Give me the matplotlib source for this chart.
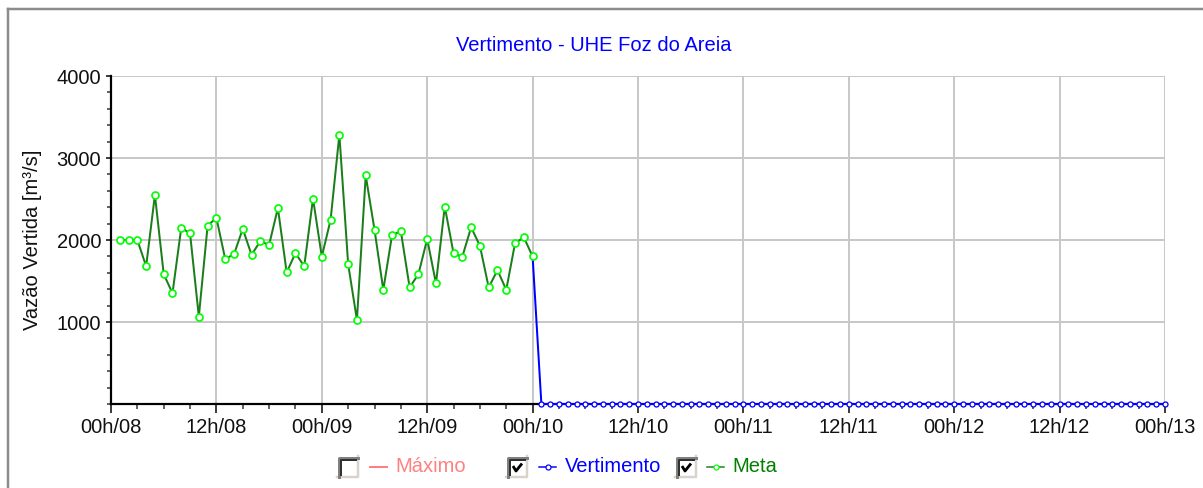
import numpy as np
import matplotlib
matplotlib.use("Agg")
import matplotlib.pyplot as plt
from matplotlib.lines import Line2D
from matplotlib.patches import Rectangle

# ---------------- data ----------------
title = "Vertimento - UHE Foz do Areia"
y_label = "Vazão Vertida [m³/s]"

# hours counted from 00h/08
meta_hours = np.arange(1, 49)
meta_values = [2000, 2000, 2000, 1680, 2550, 1585, 1350, 2150, 2080, 1066,
               2175, 2270, 1770, 1825, 2135, 1820, 1985, 1940, 2390, 1605,
               1840, 1680, 2505, 1797, 2245, 3285, 1706, 1025, 2787, 2126,
               1392, 2061, 2106, 1421, 1584, 2012, 1470, 2408, 1837, 1796,
               2155, 1930, 1421, 1633, 1392, 1960, 2033, 1800]

vert_hours = np.arange(48, 121)
vert_values = [1800,
               0, 0, 0, 0, 0, 0, 0, 0, 0, 0, 0, 0,
               0, 0, 0, 0, 0, 0, 0, 0, 0, 0, 0, 0,
               0, 0, 0, 0, 0, 0, 0, 0, 0, 0, 0, 0,
               0, 0, 0, 0, 0, 0, 0, 0, 0, 0, 0, 0,
               0, 0, 0, 0, 0, 0, 0, 0, 0, 0, 0, 0,
               0, 0, 0, 0, 0, 0, 0, 0, 0, 0, 0, 0]

x_tick_pos = [0, 12, 24, 36, 48, 60, 72, 84, 96, 108, 120]
x_tick_labels = ["00h/08", "12h/08", "00h/09", "12h/09", "00h/10", "12h/10",
                 "00h/11", "12h/11", "00h/12", "12h/12", "00h/13"]
y_tick_pos = [1000, 2000, 3000, 4000]
y_tick_labels = ["1000", "2000", "3000", "4000"]

legend_labels = ["Máximo", "Vertimento", "Meta"]
legend_checked = [False, True, True]

# ---------------- style ----------------
W, H = 1203, 488
plt.rcParams['font.family'] = ['Liberation Sans', 'DejaVu Sans']
FS = 14.5
PT = 0.72  # points per pixel at dpi 100

GREEN_LINE = "#1a7f1a"
GREEN_MARK = "#00ff00"
BLUE = "#0000ff"
PINK = "#ff8080"
GRID = "#c8c8c8"

fig = plt.figure(figsize=(W / 100, H / 100), dpi=100)
fig.patch.set_facecolor("white")


def fx(x):
    return x / W


def fy(y):
    return 1 - y / H


# outer frame (left + top)
fig.add_artist(Line2D([fx(8), fx(8)], [fy(9), fy(490)], color="#8c8c8c",
                      lw=2.5 * PT, transform=fig.transFigure))
fig.add_artist(Line2D([fx(8), fx(1210)], [fy(9), fy(9)], color="#8c8c8c",
                      lw=2.5 * PT, transform=fig.transFigure))

ax = fig.add_axes([fx(111), fy(404), (1165 - 111) / W, (404 - 76) / H])
ax.set_xlim(0, 120)
ax.set_ylim(0, 4000)

ax.set_xticks(x_tick_pos)
ax.set_xticklabels(x_tick_labels, fontsize=FS)
ax.set_xticks(np.arange(0, 121, 3), minor=True)
ax.set_yticks(y_tick_pos)
ax.set_yticklabels(y_tick_labels, fontsize=FS)
ax.set_yticks(np.arange(0, 4001, 200), minor=True)

ax.tick_params(axis="x", which="major", length=9 * PT, width=1.5 * PT,
               pad=5 * PT, colors="black", labelcolor="#111111")
ax.tick_params(axis="x", which="minor", length=5 * PT, width=1.5 * PT,
               colors="#333333")
ax.tick_params(axis="y", which="major", length=5 * PT, width=1.5 * PT,
               pad=5 * PT, labelcolor="#111111")
ax.tick_params(axis="y", which="minor", length=4 * PT, width=1.5 * PT,
               colors="#333333")

ax.grid(True, which="major", color=GRID, lw=2 * PT, zorder=0)
ax.set_axisbelow(True)
for s in ["top", "right"]:
    ax.spines[s].set_visible(False)
for s in ["left", "bottom"]:
    ax.spines[s].set_linewidth(2.2 * PT)
    ax.spines[s].set_color("black")

ax.set_ylabel(y_label, fontsize=FS, color="#111111", labelpad=10)

# series
ax.plot(vert_hours, vert_values, color=BLUE, lw=2 * PT, marker="o",
        ms=5 * PT, mfc="white", mec=BLUE, mew=1.3 * PT, zorder=3,
        clip_on=False)
ax.plot(meta_hours, meta_values, color=GREEN_LINE, lw=2 * PT, marker="o",
        ms=7 * PT, mfc="white", mec=GREEN_MARK, mew=1.7 * PT, zorder=4,
        clip_on=False)

fig.text(fx(594), fy(46), title, color=BLUE, fontsize=FS, ha="center",
         va="center")

# ---------------- legend (checkboxes) ----------------
legend_colors = [PINK, BLUE, "#008000"]
box_x = [337, 506, 675]
sym_x = [370, 539, 707]
text_x = [395, 565, 732]
yc = 466.5


def checkbox(x0, checked):
    y0, s = 456, 22
    fig.add_artist(Rectangle((fx(x0), fy(y0 + s)), s / W, s / H,
                             transform=fig.transFigure, facecolor="white",
                             edgecolor="none"))
    # light bottom/right
    fig.add_artist(Line2D([fx(x0), fx(x0 + s - 1), fx(x0 + s - 1)],
                          [fy(y0 + s - 1), fy(y0 + s - 1), fy(y0)],
                          color="#d8d4cc", lw=2.5 * PT,
                          transform=fig.transFigure))
    # dark top/left (outer grey, inner near-black)
    fig.add_artist(Line2D([fx(x0 + 1.5), fx(x0 + 1.5), fx(x0 + s - 1)],
                          [fy(y0 + s - 1), fy(y0 + 1.5), fy(y0 + 1.5)],
                          color="#808080", lw=3 * PT,
                          transform=fig.transFigure))
    fig.add_artist(Line2D([fx(x0 + 4), fx(x0 + 4), fx(x0 + s - 3)],
                          [fy(y0 + s - 3), fy(y0 + 4), fy(y0 + 4)],
                          color="#303030", lw=2 * PT,
                          transform=fig.transFigure))
    if checked:
        fig.add_artist(Line2D([fx(x0 + 7), fx(x0 + 10), fx(x0 + 16)],
                              [fy(y0 + 10), fy(y0 + 15), fy(y0 + 7.5)],
                              color="black", lw=2.8 * PT,
                              solid_capstyle="butt",
                              transform=fig.transFigure))


for i, lab in enumerate(legend_labels):
    checkbox(box_x[i], legend_checked[i])
    c = legend_colors[i]
    if i == 0:
        fig.add_artist(Line2D([fx(sym_x[i]), fx(sym_x[i] + 17)], [fy(yc), fy(yc)],
                              color=c, lw=2 * PT, transform=fig.transFigure))
    elif i == 1:
        fig.add_artist(Line2D([fx(sym_x[i]), fx(sym_x[i] + 17)], [fy(yc), fy(yc)],
                              color=c, lw=1.5 * PT, transform=fig.transFigure))
        fig.add_artist(Line2D([fx(sym_x[i] + 8.5)], [fy(yc)], marker="o",
                              ms=5 * PT, mfc="white", mec=c, mew=1.2 * PT,
                              transform=fig.transFigure))
    else:
        fig.add_artist(Line2D([fx(sym_x[i]), fx(sym_x[i] + 17)], [fy(yc), fy(yc)],
                              color=GREEN_LINE, lw=1.5 * PT,
                              transform=fig.transFigure))
        fig.add_artist(Line2D([fx(sym_x[i] + 8.5)], [fy(yc)], marker="o",
                              ms=5 * PT, mfc="white", mec=GREEN_MARK,
                              mew=1.2 * PT, transform=fig.transFigure))
    fig.text(fx(text_x[i]), fy(yc), lab, color=c, fontsize=FS, ha="left",
             va="center")

fig.savefig("out.png", dpi=100, facecolor="white")
